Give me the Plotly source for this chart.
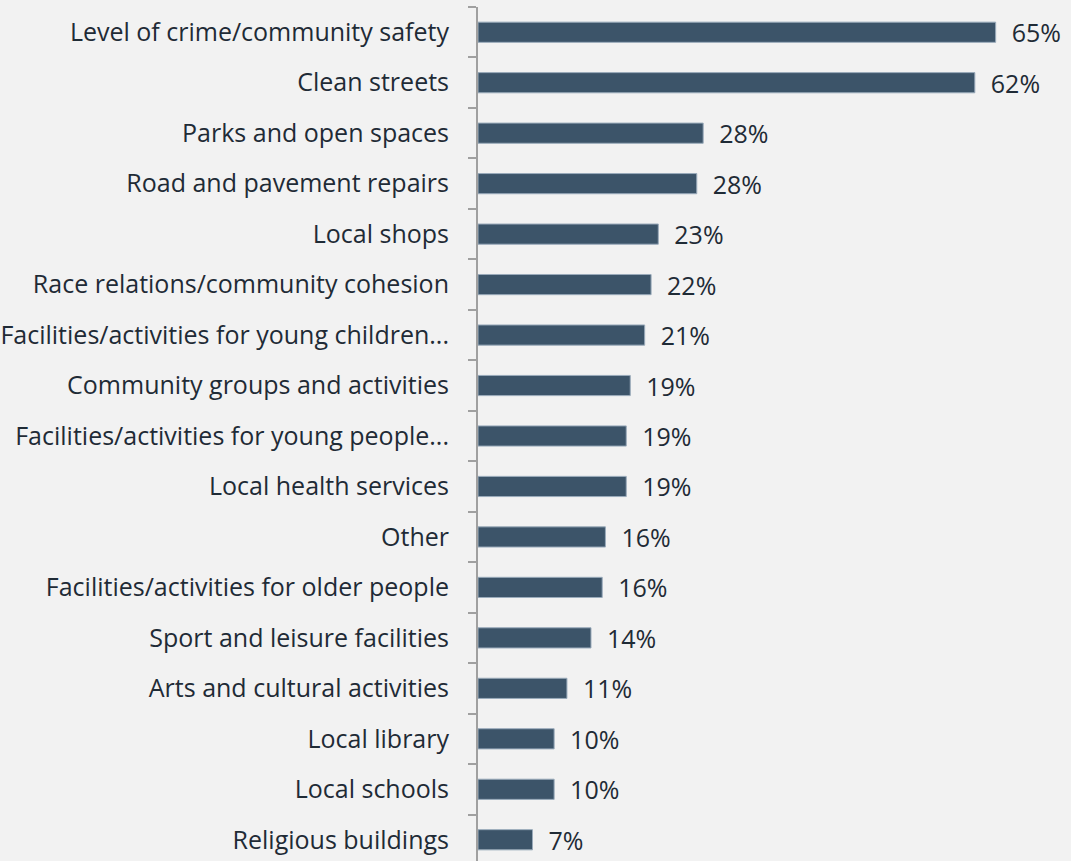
import plotly.graph_objects as go

# categories listed top to bottom as in the chart
categories = [
    "Level of crime/community safety",
    "Clean streets",
    "Parks and open spaces",
    "Road and pavement repairs",
    "Local shops",
    "Race relations/community cohesion",
    "Facilities/activities for young children...",
    "Community groups and activities",
    "Facilities/activities for young people...",
    "Local health services",
    "Other",
    "Facilities/activities for older people",
    "Sport and leisure facilities",
    "Arts and cultural activities",
    "Local library",
    "Local schools",
    "Religious buildings",
]
values = [64.6, 62.0, 28.1, 27.3, 22.5, 21.6, 20.8, 19.0, 18.5, 18.5,
          15.9, 15.5, 14.1, 11.1, 9.5, 9.5, 6.8]
value_labels = ["65%", "62%", "28%", "28%", "23%", "22%", "21%", "19%", "19%",
                "19%", "16%", "16%", "14%", "11%", "10%", "10%", "7%"]

text_color = '#1f2b36'

fig = go.Figure()

fig.add_trace(go.Bar(
    x=values,
    y=categories,
    orientation='h',
    text=["  " + t for t in value_labels],
    textposition='outside',
    constraintext='none',
    cliponaxis=False,
    textfont=dict(size=25, color=text_color, family='Open Sans'),
    marker=dict(color='#3c5469', line=dict(color='#9aabbb', width=1)),
))

# plot area runs a few pixels past the bottom of the window, as in the original
fig.update_layout(
    width=1071,
    height=865,
    margin=dict(l=478, r=0, t=7, b=0),
    paper_bgcolor='#f2f2f2',
    plot_bgcolor='#f2f2f2',
    bargap=0.6,
    showlegend=False,
    font=dict(family='Open Sans', size=25, color=text_color),
    xaxis=dict(
        range=[0, 74],
        visible=False,
        showgrid=False,
        zeroline=False,
    ),
    yaxis=dict(
        autorange='reversed',
        showgrid=False,
        zeroline=False,
        showline=True,
        linecolor='#a0a0a0',
        linewidth=2,
        ticks='outside',
        tickson='boundaries',
        ticklen=8,
        tickcolor='#a0a0a0',
        tickwidth=2,
        ticklabelstandoff=22,
        tickfont=dict(size=25, color=text_color, family='Open Sans'),
    ),
)

fig.write_html("out.html", config={'displayModeBar': False},
               post_script="document.body.style.margin='0';"
                           "document.body.style.overflow='hidden';")
